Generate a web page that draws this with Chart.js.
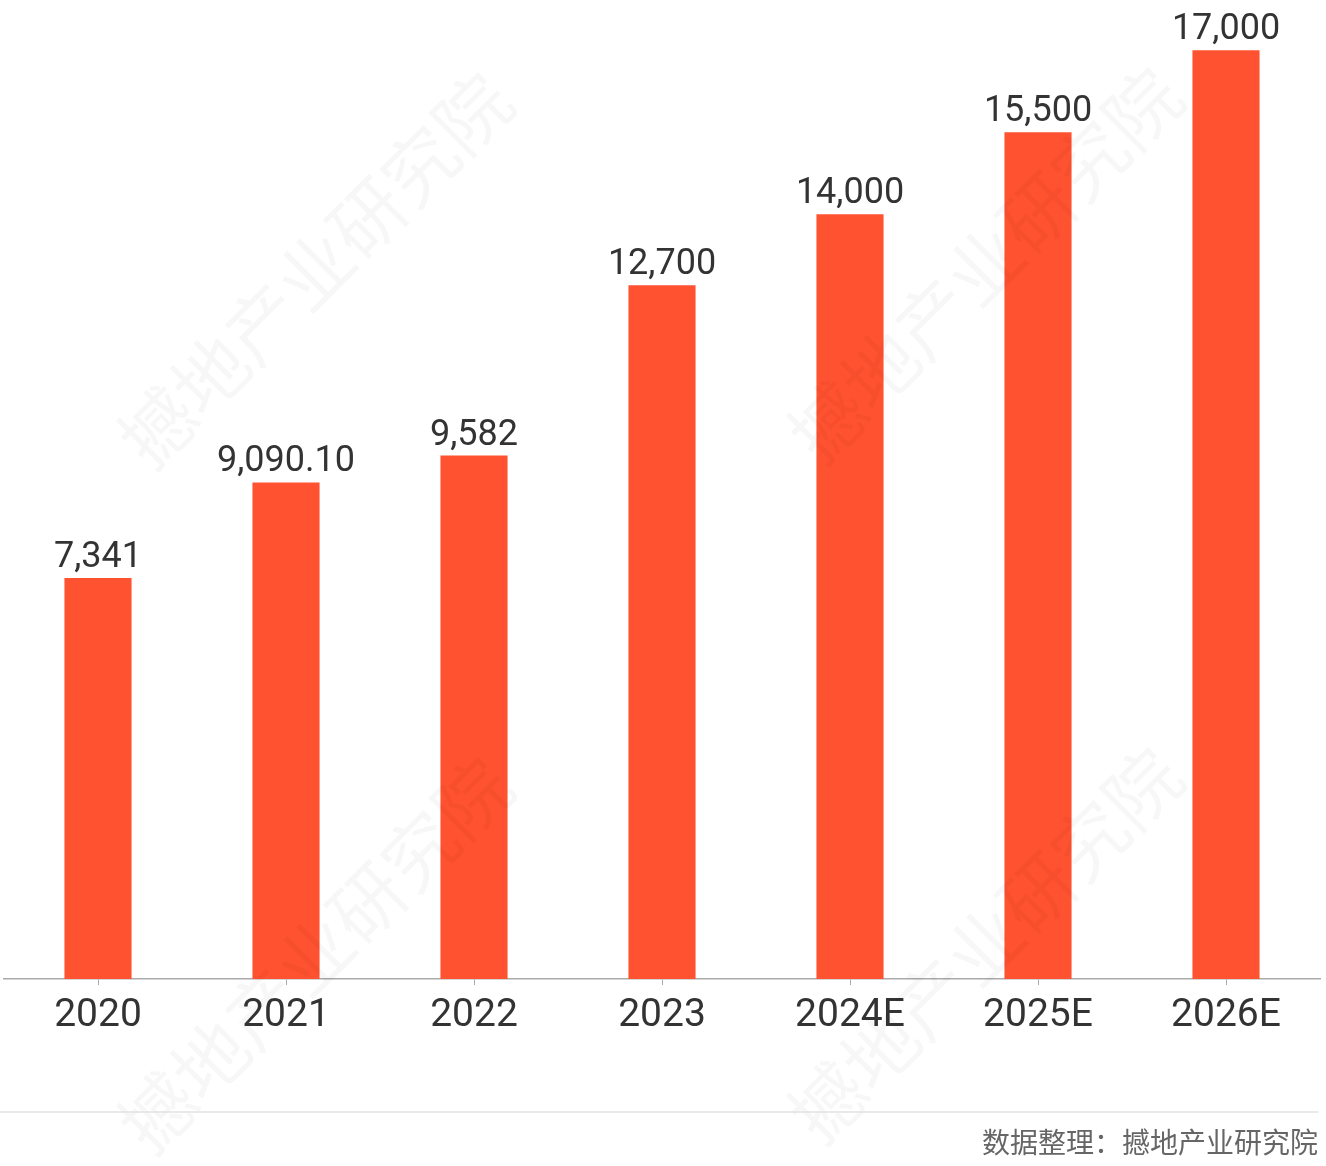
<!DOCTYPE html>
<html>
<head>
<meta charset="utf-8">
<script src="https://cdn.jsdelivr.net/npm/chart.js@4.4.1/dist/chart.umd.min.js"></script>
<style>
  html, body { margin: 0; padding: 0; background: #fff; }
  #wrap { position: relative; width: 1326px; height: 1166px; }
</style>
</head>
<body>
<div id="wrap"><canvas id="myChart" width="1326" height="1166"></canvas></div>
<script>
const years = ['2020', '2021', '2022', '2023', '2024E', '2025E', '2026E']
const values = [7341, 9090.10, 9582, 12700, 14000, 15500, 17000]
const valueText = ['7,341', '9,090.10', '9,582', '12,700', '14,000', '15,500', '17,000']
const sourceText = '数据整理：撼地产业研究院'
const watermark = '撼地产业研究院'

const FONT = 'Roboto, "Noto Sans", "Noto Sans CJK SC", sans-serif'

// value labels on top of each bar
const barLabels = {
  id: 'barLabels',
  afterDatasetsDraw(chart) {
    const ctx = chart.ctx
    const meta = chart.getDatasetMeta(0)
    ctx.save()
    ctx.font = '36px ' + FONT
    ctx.fillStyle = '#333'
    ctx.textAlign = 'center'
    ctx.textBaseline = 'alphabetic'
    meta.data.forEach((bar, i) => {
      ctx.fillText(valueText[i], bar.x, bar.y - 11)
    })
    ctx.restore()
  }
}

// faint watermark, bottom rule and source note
const decor = {
  id: 'decor',
  afterDraw(chart) {
    const ctx = chart.ctx
    ctx.save()
    ctx.fillStyle = 'rgba(0,0,0,0.03)'
    ctx.font = '74px "Noto Sans CJK SC", sans-serif'
    ctx.textAlign = 'center'
    ctx.textBaseline = 'middle'
    ;[[315, 270], [985, 265], [315, 955], [985, 945]].forEach(p => {
      ctx.save()
      ctx.translate(p[0], p[1])
      ctx.rotate(-Math.PI / 4)
      ctx.fillText(watermark, 0, 0)
      ctx.restore()
    })

    ctx.strokeStyle = '#e2e2e2'
    ctx.lineWidth = 1.5
    ctx.beginPath()
    ctx.moveTo(0, 1112)
    ctx.lineTo(1318, 1112)
    ctx.stroke()

    ctx.fillStyle = '#666'
    ctx.font = '28px "Noto Sans CJK SC", sans-serif'
    ctx.textAlign = 'right'
    ctx.textBaseline = 'middle'
    ctx.fillText(sourceText, 1318, 1142)
    ctx.restore()
  }
}

const ctx = document.getElementById('myChart')
const chart = new Chart(ctx, {
  type: 'bar',
  data: {
    labels: years,
    datasets: [{
      data: values,
      backgroundColor: '#FF5230',
      borderWidth: 0,
      categoryPercentage: 1,
      barPercentage: 0.357
    }]
  },
  options: {
    responsive: false,
    animation: false,
    devicePixelRatio: 1,
    layout: { padding: { left: 4, right: 6, top: 12, bottom: 0 } },
    plugins: {
      legend: { display: false },
      tooltip: { enabled: false }
    },
    scales: {
      x: {
        grid: { display: true, offset: false, drawOnChartArea: false, tickLength: 6, color: '#aaa' },
        border: { display: true, color: '#aaa', width: 1.5 },
        ticks: {
          color: '#333',
          font: { size: 39, family: FONT },
          padding: 8
        },
        afterFit(scale) { scale.height = 187 }
      },
      y: {
        display: false,
        min: 0,
        max: 17700
      }
    }
  },
  plugins: [barLabels, decor]
})
</script>
</body>
</html>
